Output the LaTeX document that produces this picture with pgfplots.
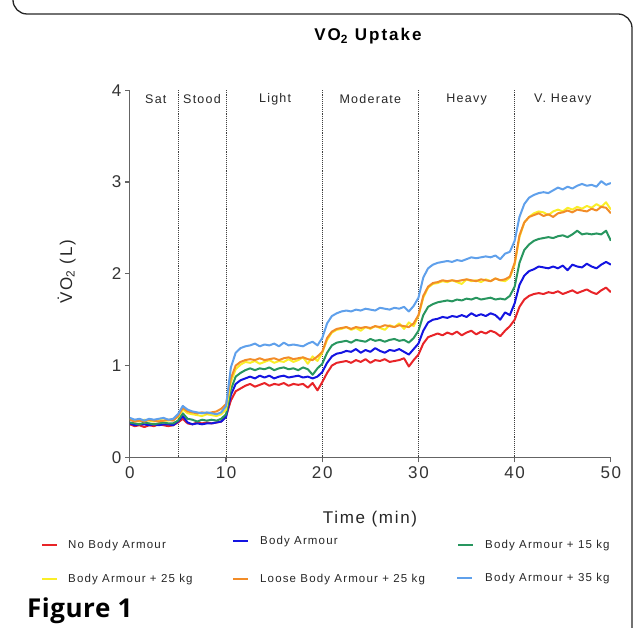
\documentclass[border=0pt]{standalone}
\usepackage{fontspec}
\setmainfont{Liberation Sans}
\newfontfamily\chartfont[LetterSpace=10]{Liberation Sans}
\newfontfamily\titlefont[LetterSpace=12]{Liberation Sans}
\newfontfamily\legfont[LetterSpace=10]{Liberation Sans}
\newfontfamily\figfont[LetterSpace=2]{Open Sans}
\usepackage{pgfplots}
\usepackage{pgfplotstable}
\pgfplotsset{compat=1.18}

\definecolor{cRed}{RGB}{232,36,40}
\definecolor{cBlue}{RGB}{20,20,225}
\definecolor{cGreen}{RGB}{40,150,95}
\definecolor{cYellow}{RGB}{250,238,40}
\definecolor{cOrange}{RGB}{242,140,40}
\definecolor{cLblue}{RGB}{95,160,235}
\definecolor{axgray}{RGB}{100,100,100}

% VO2 (L) against time (min); columns: no armour, armour, +15, +25, loose +25, +35
\pgfplotstableread{
t    r    b    g    y    o    l
0    0.36 0.37 0.38 0.42 0.41 0.43
0.5  0.34 0.35 0.37 0.40 0.39 0.41
1    0.35 0.36 0.36 0.39 0.40 0.42
1.5  0.33 0.36 0.38 0.41 0.39 0.40
2    0.35 0.35 0.37 0.40 0.41 0.42
2.5  0.34 0.36 0.36 0.39 0.40 0.41
3    0.36 0.35 0.37 0.41 0.39 0.42
3.5  0.35 0.36 0.38 0.40 0.40 0.43
4    0.34 0.36 0.37 0.40 0.41 0.41
4.5  0.35 0.35 0.37 0.41 0.40 0.42
5    0.38 0.39 0.40 0.44 0.45 0.47
5.5  0.42 0.45 0.48 0.52 0.54 0.56
6    0.37 0.38 0.42 0.48 0.50 0.52
6.5  0.36 0.36 0.41 0.47 0.49 0.50
7    0.38 0.37 0.39 0.46 0.48 0.49
7.5  0.37 0.36 0.41 0.45 0.49 0.48
8    0.38 0.37 0.40 0.47 0.48 0.49
8.5  0.37 0.37 0.41 0.46 0.49 0.48
9    0.38 0.38 0.40 0.45 0.50 0.47
9.5  0.39 0.39 0.42 0.47 0.53 0.49
10   0.45 0.44 0.47 0.52 0.58 0.56
10.5 0.62 0.68 0.74 0.82 0.86 0.98
11   0.72 0.80 0.88 0.96 1.00 1.14
11.5 0.75 0.84 0.92 1.01 1.04 1.19
12   0.78 0.86 0.95 1.04 1.06 1.21
12.5 0.80 0.88 0.97 1.03 1.07 1.22
13   0.77 0.86 0.95 1.05 1.06 1.24
13.5 0.79 0.89 0.97 1.02 1.08 1.21
14   0.81 0.87 0.96 1.04 1.06 1.23
14.5 0.78 0.89 0.98 1.06 1.07 1.22
15   0.80 0.86 0.95 1.03 1.08 1.24
15.5 0.79 0.88 0.97 1.05 1.06 1.21
16   0.81 0.89 0.98 1.04 1.08 1.25
16.5 0.78 0.87 0.96 1.07 1.09 1.22
17   0.80 0.88 0.97 1.04 1.07 1.23
17.5 0.79 0.89 0.95 1.06 1.08 1.22
18   0.80 0.87 0.98 1.09 1.09 1.21
18.5 0.76 0.88 0.96 1.02 1.07 1.24
19   0.81 0.86 0.90 1.10 1.06 1.26
19.5 0.73 0.88 0.97 1.05 1.10 1.22
20   0.82 0.93 1.02 1.14 1.15 1.30
20.5 0.92 1.03 1.14 1.28 1.30 1.46
21   1.00 1.10 1.22 1.36 1.37 1.54
21.5 1.03 1.13 1.25 1.39 1.40 1.57
22   1.04 1.14 1.26 1.40 1.41 1.59
22.5 1.05 1.16 1.27 1.42 1.42 1.60
23   1.03 1.15 1.25 1.39 1.40 1.59
23.5 1.06 1.18 1.28 1.41 1.42 1.61
24   1.04 1.14 1.27 1.38 1.41 1.60
24.5 1.07 1.17 1.26 1.42 1.42 1.62
25   1.03 1.15 1.29 1.40 1.41 1.61
25.5 1.06 1.19 1.27 1.43 1.43 1.60
26   1.05 1.16 1.28 1.41 1.42 1.63
26.5 1.07 1.14 1.26 1.39 1.44 1.62
27   1.04 1.17 1.28 1.44 1.43 1.61
27.5 1.05 1.16 1.29 1.42 1.42 1.63
28   1.06 1.18 1.27 1.46 1.44 1.62
28.5 1.08 1.15 1.28 1.40 1.43 1.64
29   0.99 1.12 1.25 1.47 1.42 1.59
29.5 1.06 1.18 1.30 1.43 1.46 1.65
30   1.12 1.24 1.38 1.54 1.55 1.74
30.5 1.24 1.38 1.55 1.74 1.76 1.96
31   1.31 1.47 1.64 1.85 1.86 2.06
31.5 1.33 1.50 1.67 1.89 1.90 2.10
32   1.35 1.51 1.69 1.90 1.91 2.12
32.5 1.33 1.53 1.70 1.92 1.93 2.13
33   1.36 1.52 1.71 1.91 1.92 2.14
33.5 1.34 1.54 1.70 1.93 1.93 2.13
34   1.37 1.53 1.72 1.91 1.92 2.15
34.5 1.33 1.55 1.71 1.89 1.93 2.14
35   1.36 1.53 1.73 1.94 1.94 2.16
35.5 1.38 1.57 1.72 1.92 1.93 2.18
36   1.34 1.54 1.74 1.93 1.92 2.17
36.5 1.37 1.56 1.72 1.91 1.94 2.18
37   1.35 1.54 1.73 1.94 1.93 2.19
37.5 1.38 1.57 1.74 1.92 1.92 2.18
38   1.36 1.55 1.72 1.95 1.95 2.20
38.5 1.32 1.50 1.73 1.93 1.93 2.16
39   1.38 1.58 1.72 1.92 1.94 2.22
39.5 1.43 1.55 1.76 1.96 1.97 2.24
40   1.50 1.68 1.86 2.10 2.12 2.36
40.5 1.64 1.88 2.12 2.40 2.42 2.62
41   1.72 1.98 2.26 2.56 2.56 2.76
41.5 1.76 2.03 2.32 2.62 2.62 2.83
42   1.78 2.05 2.36 2.66 2.64 2.86
42.5 1.79 2.08 2.38 2.68 2.66 2.88
43   1.78 2.07 2.39 2.67 2.63 2.89
43.5 1.80 2.06 2.40 2.64 2.65 2.88
44   1.79 2.08 2.39 2.68 2.62 2.91
44.5 1.81 2.06 2.41 2.70 2.66 2.94
45   1.78 2.09 2.42 2.68 2.67 2.92
45.5 1.80 2.04 2.40 2.72 2.69 2.95
46   1.82 2.10 2.43 2.70 2.67 2.93
46.5 1.79 2.08 2.47 2.73 2.70 2.96
47   1.81 2.07 2.43 2.71 2.69 2.98
47.5 1.83 2.11 2.44 2.74 2.68 2.96
48   1.80 2.08 2.43 2.72 2.71 2.97
48.5 1.78 2.06 2.44 2.76 2.69 2.95
49   1.82 2.10 2.43 2.73 2.73 3.01
49.5 1.85 2.13 2.47 2.78 2.72 2.97
50   1.80 2.10 2.36 2.70 2.66 2.99
}\vodata

\begin{document}
\begin{tikzpicture}[x=1pt,y=1pt]
\path[use as bounding box] (0,0) rectangle (633,628);
\draw[line width=1.3pt, black!85, rounded corners=14pt] (13,660) |- (632,614) -- (632,-40);

\begin{axis}[
    at={(135,186)}, anchor=origin,
    scale only axis, width=481pt, height=367pt,
    xmin=0, xmax=50, ymin=0, ymax=4,
    axis x line=bottom, axis y line=left,
    axis line style={-, axgray, line width=1.2pt},
    xtick={0,10,...,50}, ytick={0,1,2,3,4},
    tick align=outside, major tick length=5pt,
    tick style={axgray, line width=1.2pt},
    /pgf/number format/assume math mode=true,
    tick label style={font=\chartfont\fontsize{17}{17}\selectfont, text=black!80},
    xticklabel style={yshift=-1pt},
    every axis plot/.append style={line width=2pt, line join=round, no markers},
]
\draw[densely dotted, black!75, line width=0.9pt] (axis cs:5,0) -- (axis cs:5,4);
\draw[densely dotted, black!75, line width=0.9pt] (axis cs:10,0) -- (axis cs:10,4);
\draw[densely dotted, black!75, line width=0.9pt] (axis cs:20,0) -- (axis cs:20,4);
\draw[densely dotted, black!75, line width=0.9pt] (axis cs:30,0) -- (axis cs:30,4);
\draw[densely dotted, black!75, line width=0.9pt] (axis cs:40,0) -- (axis cs:40,4);

\addplot[cRed] table[x=t, y=r] {\vodata};
\addplot[cBlue] table[x=t, y=b] {\vodata};
\addplot[cGreen] table[x=t, y=g] {\vodata};
\addplot[cYellow] table[x=t, y=y] {\vodata};
\addplot[cOrange] table[x=t, y=o] {\vodata};
\addplot[cLblue] table[x=t, y=l] {\vodata};

\begin{scope}[every node/.style={anchor=base, inner sep=0pt, font=\chartfont\fontsize{12.5}{12.5}\selectfont, text=black!85}]
\node at (axis cs:2.7,3.86) {Sat};
\node at (axis cs:7.5,3.86) {Stood};
\node at (axis cs:15.1,3.87) {Light};
\node at (axis cs:25,3.86) {Moderate};
\node at (axis cs:35,3.87) {Heavy};
\node at (axis cs:45,3.87) {V. Heavy};
\end{scope}
\end{axis}

% title and axis labels
\node[anchor=base, inner sep=0pt, font=\titlefont\bfseries\fontsize{17}{17}\selectfont] at (368,587) {VO\textsubscript{2} Uptake};
\node[anchor=base, inner sep=0pt, font=\chartfont\fontsize{17}{17}\selectfont, text=black!85] at (370,104) {Time (min)};
\node[anchor=base, rotate=90, inner sep=0pt, font=\chartfont\fontsize{17}{17}\selectfont, text=black!85] at (72,356) {\.{V}O\textsubscript{2} (L)};

% legend
\begin{scope}[every node/.style={anchor=base west, inner sep=0pt, font=\legfont\fontsize{11.5}{11.5}\selectfont, text=black!85}]
\draw[cRed, line width=2pt] (42,83) -- (57,83);
\node at (68,79) {No Body Armour};
\draw[cBlue, line width=2pt] (233,87) -- (248,87);
\node at (260,83) {Body Armour};
\draw[cGreen, line width=2pt] (458,83) -- (473,83);
\node at (485,79) {Body Armour + 15 kg};
\draw[cYellow, line width=2pt] (42,49) -- (57,49);
\node at (68,45) {Body Armour + 25 kg};
\draw[cOrange, line width=2pt] (233,49) -- (248,49);
\node at (260,45) {Loose Body Armour + 25 kg};
\draw[cLblue, line width=2pt] (457,50) -- (472,50);
\node at (485,46) {Body Armour + 35 kg};
\end{scope}

\node[anchor=base west, inner sep=0pt, font=\figfont\bfseries\fontsize{26}{26}\selectfont] at (27,10) {Figure 1};
\end{tikzpicture}
\end{document}
